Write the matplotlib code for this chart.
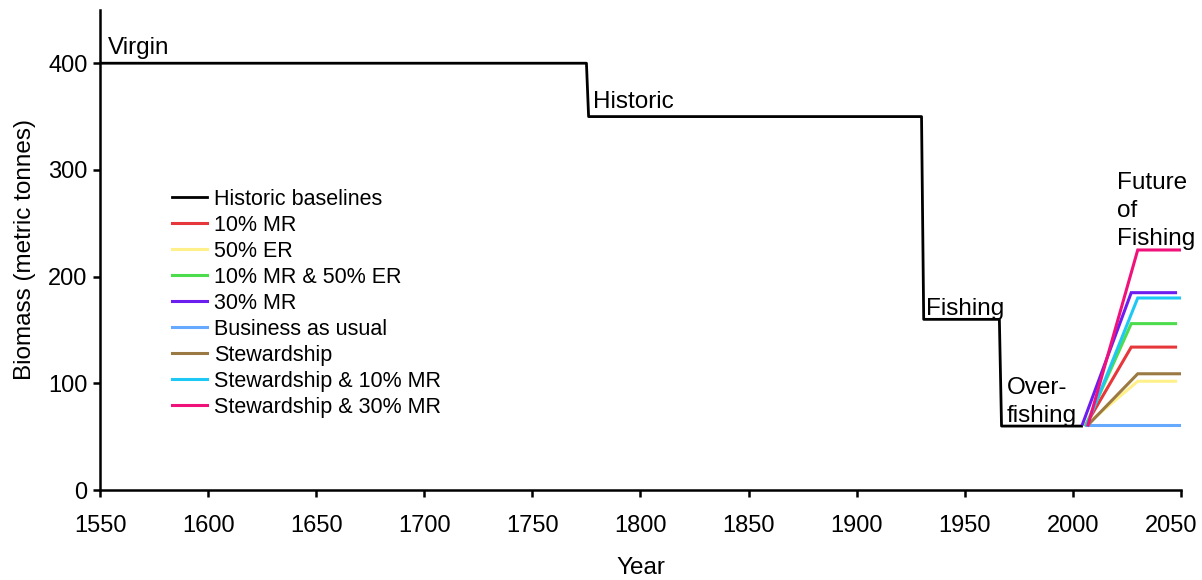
import numpy as np
import matplotlib
matplotlib.use('Agg')
import matplotlib.pyplot as plt
import matplotlib.transforms as mtransforms

plt.rcParams['font.family'] = ['Liberation Sans', 'DejaVu Sans']

# Historic baseline (step series)
hist_years = [1550, 1775, 1776, 1930, 1931, 1966, 1967, 2004]
hist_biomass = [400, 400, 350, 350, 160, 160, 60, 60]

# Future scenarios: start, knee, end
scen_names = ['10% MR', '50% ER', '10% MR & 50% ER', '30% MR',
              'Business as usual', 'Stewardship',
              'Stewardship & 10% MR', 'Stewardship & 30% MR']
scen_years = [[2006, 2027, 2047.5],
              [2006, 2030, 2047.5],
              [2006, 2027, 2047.5],
              [2004.5, 2027, 2047.5],
              [2006, 2030, 2050],
              [2007, 2030, 2050],
              [2006.5, 2030, 2050],
              [2007, 2030, 2050]]
scen_biomass = [[61, 134, 134],
                [61, 102, 102],
                [61, 156, 156],
                [62, 185, 185],
                [61, 61, 61],
                [61, 109, 109],
                [61, 180, 180],
                [61, 225, 225]]
scen_colors = ['#e6373a', '#fff08a', '#4cdc4c', '#6c1ef0',
               '#66aaff', '#9a7a42', '#1ec8f5', '#f0127a']

fig = plt.figure(figsize=(12.02, 5.8), dpi=100)
ax = fig.add_axes([0.0832, 0.155, 0.8993, 0.828])

ax.plot(hist_years, hist_biomass, color='black', lw=2.0, label='Historic baselines')
for yrs, vals, name, col in zip(scen_years, scen_biomass, scen_names, scen_colors):
    ax.plot(yrs, vals, color=col, lw=2.2, label=name, solid_joinstyle='miter')

# Period labels
fs = 17.5
ax.text(1553.5, 404, 'Virgin', fontsize=fs, ha='left', va='bottom')
ax.text(1778, 353, 'Historic', fontsize=fs, ha='left', va='bottom')
ax.text(1932, 159, 'Fishing', fontsize=fs, ha='left', va='bottom')
ax.text(1969.5, 59.5, 'Over-\nfishing', fontsize=fs, ha='left', va='bottom',
        linespacing=1.35)
ax.text(2020.5, 225, 'Future\nof\nFishing', fontsize=fs, ha='left', va='bottom',
        linespacing=1.35)

ax.set_xlim(1550, 2050)
ax.set_ylim(0, 450)
ax.set_xticks(np.arange(1550, 2051, 50))
ax.set_yticks([0, 100, 200, 300, 400])
ax.tick_params(labelsize=17, width=1.8, length=5, direction='out', pad=4)
ax.tick_params(axis='x', pad=13)
for s in ['top', 'right']:
    ax.spines[s].set_visible(False)
for s in ['left', 'bottom']:
    ax.spines[s].set_linewidth(1.8)

# last tick label sits a little left of its tick so it stays inside the figure
last = ax.get_xticklabels()[-1]
last.set_transform(last.get_transform() +
                   mtransforms.ScaledTranslation(-7 / 72, 0, fig.dpi_scale_trans))

ax.set_xlabel('Year', fontsize=17.5, labelpad=14)
ax.set_ylabel('Biomass (metric tonnes)', fontsize=17.5, labelpad=9)

ax.legend(loc='upper left', bbox_to_anchor=(0.0585, 0.645), frameon=False,
          fontsize=15.5, handlelength=1.63, handletextpad=0.33,
          labelspacing=0.23, borderaxespad=0)

fig.savefig('out.png', dpi=100)
